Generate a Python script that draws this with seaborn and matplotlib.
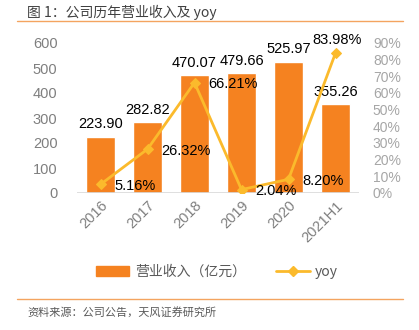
import matplotlib
matplotlib.use("Agg")
import matplotlib.pyplot as plt
from matplotlib.lines import Line2D
from matplotlib.patches import Patch
import seaborn as sns
import pandas as pd

years = ["2016", "2017", "2018", "2019", "2020", "2021H1"]
revenue = [223.90, 282.82, 470.07, 479.66, 525.97, 355.26]
yoy = [5.16, 26.32, 66.21, 2.04, 8.20, 83.98]
left_ticks = [0, 100, 200, 300, 400, 500, 600]
right_ticks = [0, 10, 20, 30, 40, 50, 60, 70, 80, 90]

title = "图 1：公司历年营业收入及 yoy"
source = "资料来源：公司公告，天风证券研究所"
bar_name = "营业收入（亿元）"
line_name = "yoy"

BAR_C = "#F58220"
LINE_C = "#FBBA2C"
TICK_C = "#7F7F7F"
RULE_C = "#F4A460"
NUM_FONT = ["Liberation Sans", "DejaVu Sans"]

sns.set_theme(style="white")
plt.rcParams["font.family"] = ["Noto Sans CJK SC", "DejaVu Sans"]

df = pd.DataFrame({"year": years, "revenue": revenue, "yoy": yoy})

fig = plt.figure(figsize=(4.19, 3.30), dpi=100)
ax = fig.add_axes([77 / 419, 1 - 193 / 330, 282 / 419, 150 / 330])

sns.barplot(data=df, x="year", y="revenue", color=BAR_C, saturation=1,
            width=0.62, ax=ax)
ax.set_ylim(0, 600)
ax.set_xlim(-0.5, len(years) - 0.5)
ax.set_yticks(left_ticks)
ax.set_xlabel("")
ax.set_ylabel("")
for s in ax.spines.values():
    s.set_visible(False)
ax.axhline(0, color="#D9D9D9", lw=1.2, zorder=1)
ax.tick_params(axis="y", length=0, labelsize=10.5, colors=TICK_C, pad=14)
ax.tick_params(axis="x", length=0, labelsize=10.5, colors=TICK_C, pad=4)
for lab in ax.get_yticklabels():
    lab.set_fontfamily(NUM_FONT)
for lab in ax.get_xticklabels():
    lab.set_rotation(45)
    lab.set_ha("right")
    lab.set_rotation_mode("anchor")
    lab.set_fontfamily(NUM_FONT)

for i, v in enumerate(revenue):
    ax.annotate(f"{v:.2f}", (i, v), xytext=(0, 4), textcoords="offset points",
                ha="center", va="bottom", fontsize=10.5, color="black",
                family=NUM_FONT)

ax2 = ax.twinx()
sns.lineplot(x=list(range(len(years))), y=yoy, ax=ax2, color=LINE_C, lw=2,
             marker="D", markersize=5.5, markeredgecolor=LINE_C)
ax2.set_ylim(0, 90)
ax2.set_yticks(right_ticks)
ax2.set_yticklabels([f"{t}%" for t in right_ticks])
for s in ax2.spines.values():
    s.set_visible(False)
ax2.tick_params(axis="y", length=0, labelsize=10, colors="#A6A6A6", pad=10)
for lab in ax2.get_yticklabels():
    lab.set_fontfamily(NUM_FONT)

for i, v in enumerate(yoy):
    if i == len(yoy) - 1:
        ax2.annotate(f"{v:.2f}%", (i, v), xytext=(1, 4), textcoords="offset points",
                     ha="center", va="bottom", fontsize=10.5, color="black",
                     family=NUM_FONT)
    else:
        ax2.annotate(f"{v:.2f}%", (i, v), xytext=(10, -1), textcoords="offset points",
                     ha="left", va="center", fontsize=10.5, color="black",
                     family=NUM_FONT)

handles = [Patch(facecolor=BAR_C, edgecolor=BAR_C),
           Line2D([0], [0], color=LINE_C, lw=2, marker="D", markersize=5.5)]
fig.legend(handles, [bar_name, line_name], loc="center",
           bbox_to_anchor=(217 / 419, 1 - 272 / 330), ncol=2, frameon=False,
           fontsize=10, labelcolor="#595959", handlelength=2.4,
           handletextpad=0.4, columnspacing=2.2)

fig.text(27 / 419, 1 - 12 / 330, title, fontsize=10, color="#404040",
         va="center", ha="left")
fig.add_artist(Line2D([17 / 419, 403 / 419], [1 - 21 / 330] * 2,
                      color=RULE_C, lw=1))
fig.add_artist(Line2D([17 / 419, 403 / 419], [1 - 299 / 330] * 2,
                      color=RULE_C, lw=1))
fig.text(27 / 419, 1 - 312 / 330, source, fontsize=8, color="#595959",
         va="center", ha="left")

fig.savefig("out.png", dpi=100)
